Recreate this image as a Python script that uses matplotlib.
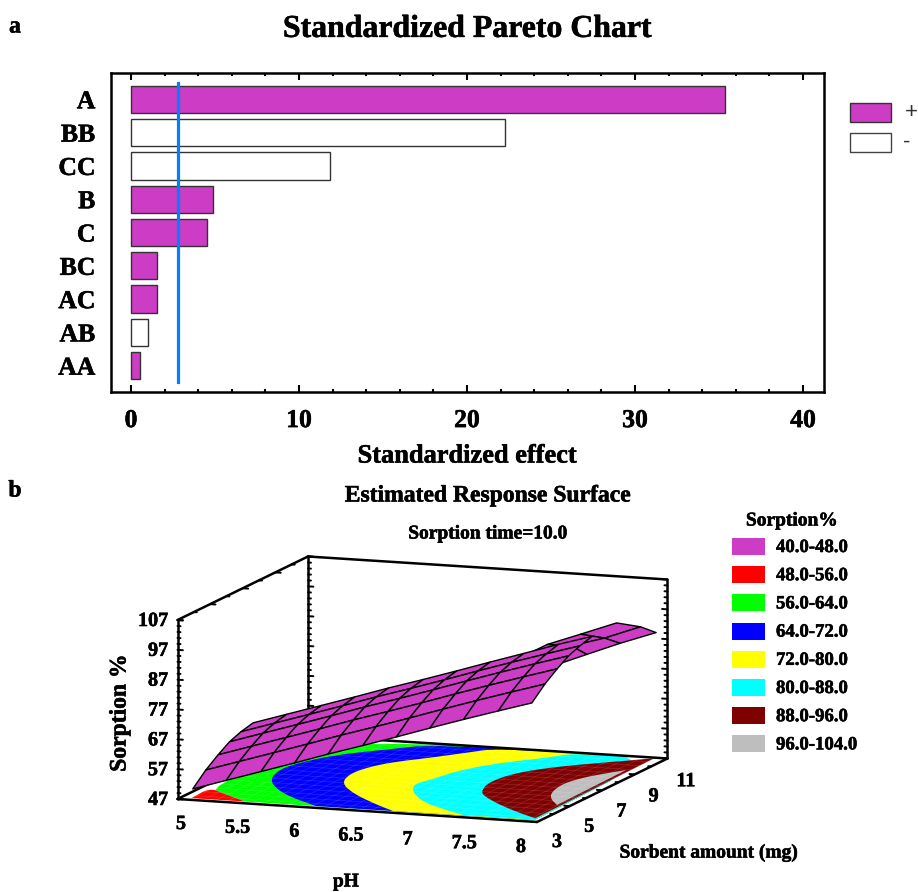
import matplotlib
matplotlib.use("Agg")
import matplotlib.pyplot as plt
from matplotlib.patches import Polygon, Rectangle
from matplotlib.text import Text
import matplotlib.patheffects as pe
import numpy as np

plt.rcParams['font.family'] = 'Liberation Serif'
plt.rcParams['font.weight'] = 'bold'

W, H = 918, 892
PURPLE = '#CC3CC4'

# Pareto chart
effects = ['A', 'BB', 'CC', 'B', 'C', 'BC', 'AC', 'AB', 'AA']
effect_values = [35.36, 22.26, 11.85, 4.9, 4.5, 1.57, 1.57, 0.99, 0.53]
effect_signs = ['+', '-', '-', '+', '+', '+', '+', '-', '+']
critical_value = 2.77

# Response surface, pH columns / sorbent rows
surf_ph = [5.1, 5.38, 5.67, 5.95, 6.23, 6.52, 6.8, 7.08, 7.36, 7.65, 7.93]
surf_s = [3.2, 4.0, 4.75, 5.45, 6.15, 6.9]
surf_z = [
    [50.1, 54.3, 57.4, 59.9, 61.4, 62.4],
    [53.7, 57.9, 61.0, 63.5, 65.0, 66.0],
    [57.4, 61.6, 64.7, 67.2, 68.7, 69.7],
    [61.0, 65.2, 68.3, 70.8, 72.3, 73.3],
    [64.7, 68.9, 72.0, 74.5, 76.0, 77.0],
    [68.3, 72.5, 75.6, 78.1, 79.6, 80.6],
    [71.9, 76.1, 79.2, 81.7, 83.2, 84.2],
    [75.6, 79.8, 82.9, 85.4, 86.9, 87.9],
    [79.2, 83.4, 86.5, 89.0, 90.5, 91.5],
    [82.8, 87.0, 90.1, 92.6, 94.1, 95.3],
    [86.2, 90.4, 93.5, 96.0, 97.5, 98.7],
]
# far end of the surface, behind the ridge
tail_ph = [7.6, 7.8, 7.93]
tail_s = [4.69, 6.57, 8.61, 10.82]
tail_z = [
    [96.0, 96.0, 94.0, 91.9],
    [96.3, 96.0, 93.2, 91.1],
    [95.0, 93.5, 91.8, 89.5],
]

# Contour bands on the floor, boundary read as (pH, sorbent)
band_colors = ['#00FF00', '#FF0000', '#0000FF', '#FFFF00', '#00FFFF', '#7F0000', '#BEBEBE']
red_ph = [5.09, 5.07, 5.27, 5.54]
red_s = [3.2, 4.46, 3.9, 3.2]
green_ph = [5.54, 5.27, 5.07, 5.07, 7.9, 7.95]
green_s = [3.2, 3.9, 4.46, 10.95, 10.95, 3.2]
blue_ph = [6.13, 5.79, 5.55, 5.40, 5.33, 5.31, 5.39, 5.54, 5.77, 6.08, 7.9, 7.95]
blue_s = [3.2, 4.06, 4.95, 5.78, 6.56, 7.30, 8.29, 9.19, 9.92, 10.95, 10.95, 3.2]
yellow_ph = [6.77, 6.50, 6.20, 5.97, 5.89, 5.93, 6.05, 6.24, 6.42, 6.60, 7.9, 7.95]
yellow_s = [3.2, 3.95, 4.92, 5.95, 7.01, 7.97, 8.72, 9.40, 10.17, 10.95, 10.95, 3.2]
cyan_ph = [7.35, 7.07, 6.85, 6.62, 6.52, 6.57, 6.62, 6.72, 6.89, 7.10, 7.24, 7.9, 7.95]
cyan_s = [3.25, 3.87, 4.45, 5.48, 6.36, 6.91, 7.84, 8.73, 9.52, 10.23, 10.95, 10.95, 3.25]
maroon_ph = [7.93, 7.69, 7.42, 7.19, 7.11, 7.05, 7.07, 7.18, 7.37, 7.61, 7.90]
maroon_s = [3.40, 4.0, 4.79, 5.62, 6.17, 6.96, 7.94, 8.76, 9.48, 10.14, 10.93]
gray_ph = [7.89, 7.74, 7.65, 7.61, 7.68, 7.87]
gray_s = [5.03, 5.73, 6.48, 7.50, 8.40, 9.43]
bands = [(green_ph, green_s), (red_ph, red_s), (blue_ph, blue_s), (yellow_ph, yellow_s),
         (cyan_ph, cyan_s), (maroon_ph, maroon_s), (gray_ph, gray_s)]

legend_labels = ['40.0-48.0', '48.0-56.0', '56.0-64.0', '64.0-72.0',
                 '72.0-80.0', '80.0-88.0', '88.0-96.0', '96.0-104.0']
legend_colors = [PURPLE, '#FF0000', '#00FF00', '#0000FF', '#FFFF00', '#00FFFF', '#7F0000', '#BEBEBE']

ph_ticks = [5, 5.5, 6, 6.5, 7, 7.5, 8]
ph_tick_labels = ['5', '5.5', '6', '6.5', '7', '7.5', '8']
s_ticks = [3, 5, 7, 9, 11]
z_ticks = [47, 57, 67, 77, 87, 97, 107]

fig = plt.figure(figsize=(W / 100, H / 100), dpi=100)

# ---- a: pareto ----
ax = fig.add_axes([110.7 / W, 1 - 391.7 / H, 713 / W, 318.7 / H])
pos = np.arange(len(effects))
colors = [PURPLE if c == '+' else 'white' for c in effect_signs]
ax.barh(pos, effect_values, height=0.82, color=colors, edgecolor='#333333', linewidth=1.0)
ax.plot([critical_value, critical_value], [-0.49, 8.49], color='#0080FF', linewidth=2.3)
ax.set_xlim(-1.21, 41.23)
ax.set_ylim(8.78, -0.79)
ax.set_yticks(pos)
ax.set_yticklabels(effects, fontsize=18.5)
ax.set_xticks(np.arange(0, 41, 10))
ax.set_xticks(np.arange(0, 41, 2), minor=True)
ax.tick_params(axis='y', length=0, pad=11)
ax.tick_params(axis='x', which='major', direction='in', top=True, length=5, width=1.5, labelsize=18.5, pad=12.5)
ax.tick_params(axis='x', which='minor', direction='in', top=True, length=2.5, width=1.5)
for sp in ax.spines.values():
    sp.set_linewidth(1.8)
ax.set_title('Standardized Pareto Chart', fontsize=22.9, fontweight='bold', pad=26)
ax.set_xlabel('Standardized effect', fontsize=19, fontweight='bold', labelpad=9)

# ---- overlay in figure pixels for the rest ----
ov = fig.add_axes([0, 0, 1, 1])
ov.set_xlim(0, W)
ov.set_ylim(H, 0)
ov.axis('off')
ov.patch.set_alpha(0)


def project(ph, s, z):
    ph, s, z = np.asarray(ph, float), np.asarray(s, float), np.asarray(z, float)
    x = 177.5 + (ph - 5) * 119.83 + (s - 3) * 16.31
    y = 799 + (ph - 5) * 7.667 - (s - 3) * 7.94 - (z - 47) * 2.983
    return x, y


def line3d(ph, s, z, lw=1.8, zorder=3, color='black', **kw):
    x, y = project(ph, s, z)
    ov.plot(x, y, color=color, lw=lw, solid_capstyle='round', zorder=zorder, **kw)


def soften(xs, ys, rounds=2):
    # corner cutting so the read boundaries do not look like polylines
    pts = np.column_stack([xs, ys])
    for _ in range(rounds):
        a, b = pts[:-1], pts[1:]
        mid = np.empty((2 * len(a), 2))
        mid[0::2] = 0.75 * a + 0.25 * b
        mid[1::2] = 0.25 * a + 0.75 * b
        pts = np.vstack([pts[0], mid, pts[-1]])
    return pts


ov.text(15, 27, 'a', fontsize=17, ha='center', va='center')
ov.text(15, 491, 'b', fontsize=17, ha='center', va='center')

# top legend
ov.add_patch(Rectangle((850, 103.3), 40.5, 19, fc=PURPLE, ec='#333333', lw=1.0))
ov.add_patch(Rectangle((850, 133.3), 40.5, 18.4, fc='white', ec='#444444', lw=1.0))
plus = ov.text(911, 112, '+', family='Liberation Sans', fontweight='normal', fontsize=16, color='#333333', ha='center', va='center')
minus = ov.text(906.5, 142, '-', family='Liberation Sans', fontweight='normal', fontsize=16, color='#333333', ha='center', va='center')

# titles of b
ov.text(488, 496, 'Estimated Response Surface', fontsize=17, ha='center', va='center')
ov.text(488, 534, 'Sorption time=10.0', fontsize=14, ha='center', va='center')
ov.text(792, 521, 'Sorption%', fontsize=14, ha='center', va='center')
for k, (lab, col) in enumerate(zip(legend_labels, legend_colors)):
    y0 = 538 + k * 28.2
    ov.add_patch(Rectangle((732, y0), 33, 17, fc=col, ec='none'))
    ov.text(776, y0 + 9.5, lab, fontsize=13.5, ha='left', va='center')

# back of the box
line3d([5, 5], [11, 11], [47, 107])
line3d([8, 8], [11, 11], [47, 107])
line3d([5, 8], [11, 11], [107, 107])
line3d([5, 5], [3, 11], [107, 107])

# ticks on the box edges
for z in range(47, 108, 2):
    d = 0.045 if (z - 47) % 10 == 0 else 0.025
    line3d([5, 5 + d], [3, 3], [z, z], lw=1.4)
    line3d([5, 5 + d], [11, 11], [z, z], lw=1.4)
    line3d([8, 8 - d], [11, 11], [z, z], lw=1.4)
for s in range(3, 12):
    d = 0.045 if (s - 3) % 2 == 0 else 0.025
    line3d([5, 5 + d], [s, s], [107, 107], lw=1.4)
    line3d([8, 8 - d], [s, s], [47, 47], lw=1.4)

# floor
for (bph, bs), col in zip(bands, band_colors):
    x, y = project(bph, bs, np.full(len(bph), 47))
    ov.add_patch(Polygon(soften(x, y), closed=True, fc=col, ec='none', zorder=2))
for p in np.arange(5.1, 8, 0.1):
    line3d([p, p], [3.2, 10.95], [47, 47], lw=0.4, zorder=2.2, color='white', alpha=0.18)
for s in np.arange(3.5, 11, 0.5):
    line3d([5.07, 7.92], [s, s], [47, 47], lw=0.4, zorder=2.2, color='white', alpha=0.18)

line3d([5, 8], [11, 11], [47, 47], zorder=3)
line3d([5, 5], [3, 11], [47, 47], zorder=3)
line3d([5, 5], [3, 3], [47, 107], zorder=3)
line3d([5, 8], [3, 3], [47, 47], zorder=3)
line3d([8, 8], [3, 11], [47, 47], zorder=3)


def draw_mesh(phs, ss, zz, zorder):
    zz = np.asarray(zz)
    for j in range(len(ss) - 2, -1, -1):
        for i in range(len(phs) - 1):
            pp = [phs[i], phs[i + 1], phs[i + 1], phs[i]]
            qq = [ss[j], ss[j], ss[j + 1], ss[j + 1]]
            vv = [zz[i, j], zz[i + 1, j], zz[i + 1, j + 1], zz[i, j + 1]]
            x, y = project(pp, qq, vv)
            ov.add_patch(Polygon(np.column_stack([x, y]), closed=True, fc=PURPLE,
                                 ec='black', lw=1.0, joinstyle='round', zorder=zorder))


draw_mesh(tail_ph, tail_s, tail_z, 4)
draw_mesh(surf_ph, surf_s, surf_z, 5)

# tick labels of b
for z in z_ticks:
    x, y = project(5, 3, z)
    ov.text(168, y + 1, str(z), fontsize=14.5, ha='right', va='center')
for p, lab in zip(ph_ticks, ph_tick_labels):
    ov.text(181 + (p - 5) * 113.3, 824 + (p - 5) * 7.67, lab, fontsize=14.5, ha='center', va='center')
for s in s_ticks:
    ov.text(557 + (s - 3) * 16.1, 842 - (s - 3) * 7.6, str(s), fontsize=14.5, ha='center', va='center')

ov.text(120, 713, 'Sorption %', fontsize=17, rotation=90, ha='center', va='center')
ov.text(346, 882, 'pH', fontsize=14, ha='center', va='center')
ov.text(709, 853, 'Sorbent amount (mg)', fontsize=14, ha='center', va='center')

# the reference type is heavier than the bold face alone
for t in fig.findobj(Text):
    if t not in (plus, minus):
        t.set_path_effects([pe.withStroke(linewidth=0.4, foreground='black')])

fig.savefig('out.png', dpi=100)
